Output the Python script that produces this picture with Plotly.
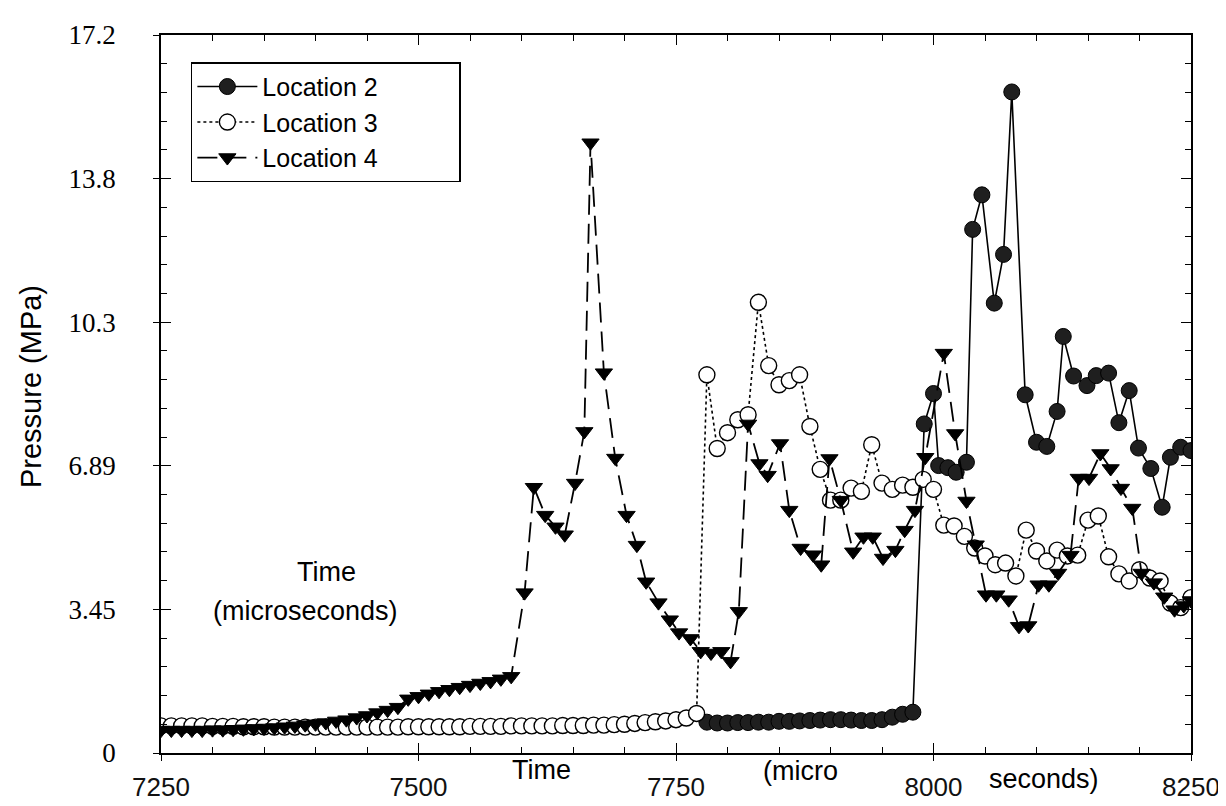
import plotly.graph_objects as go

# ---------------- data ----------------
# Location 2 (filled circles, solid line)
t_loc2 = [7780, 7790, 7800, 7810, 7820, 7830, 7840, 7850, 7860, 7870, 7880,
          7890, 7900, 7910, 7920, 7930, 7940, 7950, 7960, 7970, 7980,
          7991, 8000, 8005, 8014, 8022, 8032, 8038, 8047, 8059, 8068, 8076,
          8089, 8100, 8110, 8120, 8126, 8136, 8149, 8158, 8170, 8180, 8190,
          8199, 8211, 8222, 8230, 8240, 8250]
p_loc2 = [0.74, 0.72, 0.72, 0.73, 0.73, 0.74, 0.74, 0.76, 0.76, 0.77, 0.78,
          0.79, 0.80, 0.80, 0.79, 0.78, 0.78, 0.80, 0.86, 0.93, 0.98,
          7.90, 8.63, 6.90, 6.85, 6.74, 6.98, 12.57, 13.40, 10.80, 11.97, 15.87,
          8.60, 7.46, 7.36, 8.20, 10.00, 9.05, 8.82, 9.06, 9.12, 7.93, 8.70,
          7.32, 6.83, 5.90, 7.10, 7.34, 7.26]

# Location 3 (open circles, dotted line)
t_loc3 = list(range(7250, 8251, 10))
p_loc3 = [0.65, 0.65, 0.65, 0.65, 0.65, 0.64, 0.64, 0.64, 0.63, 0.63,   # 7250-7340
          0.63, 0.62, 0.62, 0.62, 0.62, 0.62, 0.62, 0.62, 0.62, 0.62,   # 7350-7440
          0.62, 0.62, 0.62, 0.62, 0.63, 0.63, 0.63, 0.63, 0.63, 0.63,   # 7450-7540
          0.64, 0.64, 0.64, 0.64, 0.65, 0.65, 0.65, 0.65, 0.65, 0.66,   # 7550-7640
          0.66, 0.66, 0.67, 0.67, 0.68, 0.69, 0.71, 0.73, 0.75, 0.77,   # 7650-7740
          0.80, 0.84, 0.95,                                             # 7750-7770
          9.08, 7.31, 7.69, 8.00, 8.12, 10.82, 9.30, 8.84, 8.94, 9.08,  # 7780-7870
          7.84, 6.81, 6.07, 6.07, 6.36, 6.28, 7.40, 6.48, 6.33, 6.43,   # 7880-7970
          6.38, 6.57, 6.33, 5.47, 5.45, 5.20, 4.92, 4.73, 4.52, 4.56,   # 7980-8070
          4.25, 5.35, 4.85, 4.61, 4.87, 4.73, 4.75, 5.59, 5.69, 4.71,   # 8080-8170
          4.30, 4.13, 4.40, 4.20, 4.13, 3.60, 3.49, 3.73]               # 8180-8250

# Location 4 (filled down-triangles, dashed line)
t_loc4 = [7250, 7260, 7270, 7280, 7290, 7300, 7310, 7320, 7330, 7340,
          7350, 7360, 7370, 7380, 7390, 7400, 7410, 7420, 7430, 7440,
          7450, 7460, 7470, 7480, 7490, 7500, 7510, 7520, 7530, 7540,
          7550, 7560, 7570, 7580, 7590,
          7603, 7612, 7623, 7633, 7642, 7652, 7661, 7667, 7680, 7691,
          7702, 7712, 7721, 7733, 7744, 7753, 7764, 7774, 7784, 7794,
          7803, 7811, 7820, 7831, 7839, 7851, 7860, 7871, 7883, 7891,
          7899, 7910, 7922, 7932, 7941, 7951, 7963, 7972, 7982, 7992,
          8010, 8021, 8032, 8041, 8051, 8061, 8073, 8083, 8092, 8102,
          8112, 8121, 8133, 8141, 8151, 8162, 8172, 8182, 8193, 8202,
          8214, 8224, 8234, 8243, 8250]
p_loc4 = [0.55, 0.55, 0.55, 0.55, 0.55, 0.56, 0.56, 0.57, 0.58, 0.59,
          0.60, 0.61, 0.63, 0.65, 0.68, 0.70, 0.73, 0.77, 0.80, 0.85,
          0.90, 0.97, 1.03, 1.10, 1.30, 1.36, 1.42, 1.48, 1.53, 1.58,
          1.63, 1.68, 1.72, 1.78, 1.84,
          3.85, 6.38, 5.71, 5.43, 5.24, 6.48, 7.72, 14.65, 9.13, 7.08,
          5.71, 4.99, 4.11, 3.61, 3.20, 2.89, 2.75, 2.44, 2.40, 2.44,
          2.20, 3.40, 7.90, 6.95, 6.67, 7.43, 5.83, 4.92, 4.76, 4.52,
          7.07, 6.07, 4.83, 5.19, 5.19, 4.68, 4.87, 5.35, 5.83, 7.10,
          9.60, 7.67, 6.05, 5.00, 3.80, 3.80, 3.68, 3.04, 3.06, 4.04,
          4.04, 4.32, 4.75, 6.60, 6.60, 7.19, 6.83, 6.36, 5.88, 4.32,
          4.09, 3.75, 3.44, 3.54, 3.66]

# axis ticks
x_tickvals = [7250, 7500, 7750, 8000, 8250]
x_ticktext = ["7250", "7500", "7750", "8000", "8250"]
y_tickvals = [0, 3.447, 6.895, 10.342, 13.790, 17.237]
y_ticktext = ["0", "3.45", "6.89", "10.3", "13.8", "17.2"]

# ---------------- figure ----------------
fig = go.Figure()

pad = "\u00a0" * 11
fig.add_trace(go.Scatter(
    x=t_loc2, y=p_loc2, name="Location 2" + pad, mode="lines+markers",
    line=dict(color="black", width=1.6),
    marker=dict(symbol="circle", size=16, color="#1f1f1f",
                line=dict(color="black", width=1))))
fig.add_trace(go.Scatter(
    x=t_loc3, y=p_loc3, name="Location 3", mode="lines+markers",
    line=dict(color="black", width=1.6, dash="dot"),
    marker=dict(symbol="circle", size=16, color="white",
                line=dict(color="black", width=1.4))))
fig.add_trace(go.Scatter(
    x=t_loc4, y=p_loc4, name="Location 4", mode="lines+markers",
    line=dict(color="black", width=1.8, dash="20px,9px"),
    marker=dict(symbol="triangle-down", size=15, color="black",
                line=dict(color="black", width=1))))

# invisible trace carrying the outward halves of the major ticks
fig.add_trace(go.Scatter(x=[7250, 8250], y=[0, 17.237], xaxis="x2", yaxis="y2",
                         mode="markers", marker=dict(opacity=0),
                         showlegend=False, hoverinfo="skip"))

sans = "Liberation Sans, Arial, sans-serif"
serif = "Liberation Serif, Times New Roman, serif"

fig.update_layout(
    width=1226, height=806,
    margin=dict(l=153, r=43, t=25, b=61),
    paper_bgcolor="white", plot_bgcolor="white",
    showlegend=True,
    legend=dict(x=0.029, y=0.962, xanchor="left", yanchor="top",
                bordercolor="black", borderwidth=1.5, bgcolor="white",
                font=dict(family=sans, size=25, color="black"),
                tracegroupgap=0, itemwidth=60),
    xaxis=dict(range=[7250, 8250], tickvals=x_tickvals, ticktext=x_ticktext,
               ticks="inside", ticklen=10, tickwidth=1.2, tickcolor="black",
               minor=dict(dtick=50, ticks="inside", ticklen=6,
                          tickwidth=1, tickcolor="black", showgrid=False),
               showline=True, linecolor="black", linewidth=1.6,
               mirror="allticks", showgrid=False, zeroline=False,
               tickfont=dict(family=sans, size=26, color="#111111"),
               ticklabelstandoff=10),
    yaxis=dict(range=[0, 17.237], tickvals=y_tickvals, ticktext=y_ticktext,
               ticks="inside", ticklen=10, tickwidth=1.2, tickcolor="black",
               minor=dict(dtick=0.6895, tick0=0, ticks="inside", ticklen=6,
                          tickwidth=1, tickcolor="black", showgrid=False),
               showline=True, linecolor="black", linewidth=1.6,
               mirror="allticks", showgrid=False, zeroline=False,
               tickfont=dict(family=serif, size=27, color="black"),
               ticklabelstandoff=38),
    xaxis2=dict(overlaying="x", matches="x", range=[7250, 8250],
                tickvals=x_tickvals, ticks="outside", ticklen=7,
                tickwidth=1.2, tickcolor="black", showticklabels=False,
                showline=False, showgrid=False, zeroline=False),
    yaxis2=dict(overlaying="y", matches="y", range=[0, 17.237],
                tickvals=y_tickvals, ticks="outside", ticklen=7,
                tickwidth=1.2, tickcolor="black", showticklabels=False,
                showline=False, showgrid=False, zeroline=False),
)

big = dict(family=sans, size=27, color="black")
fig.add_annotation(text="Pressure (MPa)", xref="paper", yref="paper",
                   x=(23 - 153) / 1030, y=0.5 + 7 / 720, textangle=-90,
                   showarrow=False,
                   font=dict(family=sans, size=29, color="black"),
                   xanchor="center", yanchor="middle")
fig.add_annotation(text="Time", xref="paper", yref="paper", x=(533 - 153) / 1030,
                   y=-(762 - 745) / 720, showarrow=False, font=big,
                   xanchor="center", yanchor="middle")
fig.add_annotation(text="(micro", xref="paper", yref="paper", x=(792 - 153) / 1030,
                   y=-(763 - 745) / 720, showarrow=False, font=big,
                   xanchor="center", yanchor="middle")
fig.add_annotation(text="seconds)", xref="paper", yref="paper", x=(1036 - 153) / 1030,
                   y=-(771 - 745) / 720, showarrow=False, font=big,
                   xanchor="center", yanchor="middle")
fig.add_annotation(text="Time", xref="paper", yref="paper",
                   x=(318 - 153) / 1030, y=(745 - 563) / 720, showarrow=False,
                   font=big, xanchor="center", yanchor="middle")
fig.add_annotation(text="(microseconds)", xref="paper", yref="paper",
                   x=(297 - 153) / 1030, y=(745 - 603) / 720, showarrow=False,
                   font=big, xanchor="center", yanchor="middle")

fig.write_html("out.html")
